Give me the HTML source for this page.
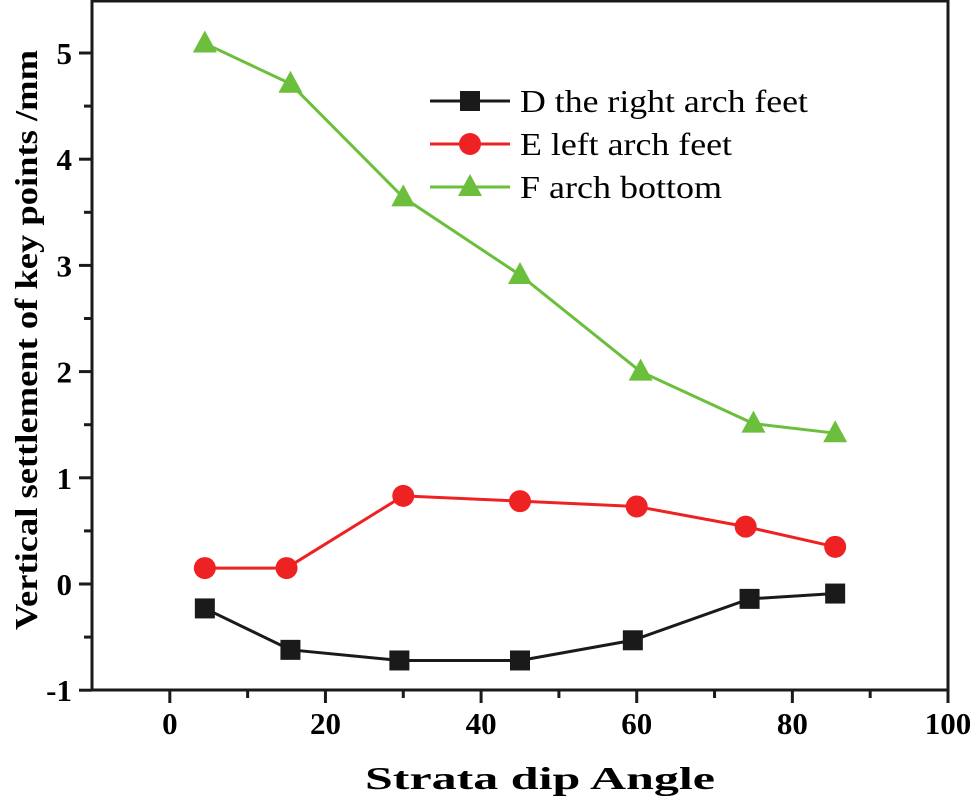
<!DOCTYPE html>
<html><head><meta charset="utf-8"><style>
body{margin:0;background:#fff}
text{font-family:"Liberation Serif","DejaVu Serif",serif}
</style></head><body>
<svg width="971" height="805" viewBox="0 0 971 805" font-family="Liberation Serif, DejaVu Serif, serif">
<g id="axes"></g>
<g id="series"></g>
<g id="legend"></g>
<text x="540" y="789" text-anchor="middle" font-size="32" font-weight="bold" font-family="Liberation Serif, serif" textLength="350" lengthAdjust="spacingAndGlyphs">Strata dip Angle</text>
<text transform="translate(37,340) rotate(-90)" text-anchor="middle" font-size="32" font-weight="bold" font-family="Liberation Serif, serif" textLength="580" lengthAdjust="spacingAndGlyphs">Vertical settlement of key points /mm</text>
</svg>
<script>
const xTicks=[0,20,40,60,80,100];
const yTicks=[-1,0,1,2,3,4,5];
const dX=[4.5,15.5,29.5,45,59.5,74.5,85.5];
const dY=[-0.23,-0.62,-0.72,-0.72,-0.53,-0.14,-0.09];
const eX=[4.5,15,30,45,60,74,85.5];
const eY=[0.15,0.15,0.83,0.78,0.73,0.54,0.35];
const fX=[4.5,15.5,30,45,60.5,75,85.5];
const fY=[5.09,4.71,3.64,2.91,2.0,1.51,1.42];
const names=["D the right arch feet","E left arch feet","F arch bottom"];
const NS="http://www.w3.org/2000/svg";
const L=92,R=948,T=1,B=690;
const sx=v=>L+(v+10)*(R-L)/110;
const sy=v=>584-v*106.2;
function mk(p,t,a){const e=document.createElementNS(NS,t);for(const k in a)e.setAttribute(k,a[k]);p.appendChild(e);return e;}
const FF="Liberation Serif, serif";
const ax=document.getElementById('axes');
const fr=mk(ax,'rect',{x:L,y:T,width:R-L,height:B-T,fill:'none',stroke:'#1a1a1a','stroke-width':3});


for(let v=0;v<=100;v+=10){const big=v%20===0;const t=mk(ax,'line',{x1:sx(v),x2:sx(v),y1:B,y2:B+(big?13:8),stroke:'#1a1a1a','stroke-width':3});

}
xTicks.forEach(v=>{const t=mk(ax,'text',{x:sx(v),y:B+44,'text-anchor':'middle','font-size':31,'font-weight':'bold','font-family':FF});t.textContent=v;

});
for(let v=-1;v<=5;v+=0.5){const big=Number.isInteger(v);const t=mk(ax,'line',{x1:L,x2:L-(big?13:8),y1:sy(v),y2:sy(v),stroke:'#1a1a1a','stroke-width':3});

}
yTicks.forEach(v=>{const t=mk(ax,'text',{x:L-20,y:sy(v)+11,'text-anchor':'end','font-size':31,'font-weight':'bold','font-family':FF});t.textContent=v;

});
const sg=document.getElementById('series');
function marker(g,shape,x,y,c){
 if(shape==='sq')return mk(g,'rect',{x:x-10,y:y-10,width:20,height:20,fill:c});
 if(shape==='ci')return mk(g,'circle',{cx:x,cy:y,r:11,fill:c});
 return mk(g,'polygon',{points:`${x},${y-13} ${x-12},${y+9} ${x+12},${y+9}`,fill:c});
}
const S=[[dX,dY,'#1a1a1a','sq','series-d'],[eX,eY,'#ee2222','ci','series-e'],[fX,fY,'#6cbf3c','tr','series-f']];
S.forEach(([xs,ys,c,sh,nm])=>{
 const g=mk(sg,'g',{});
 
 
 const pl=mk(g,'polyline',{points:xs.map((x,i)=>sx(x)+','+sy(ys[i])).join(' '),fill:'none',stroke:c,'stroke-width':3});
 
 
 xs.forEach((x,i)=>{const m=marker(g,sh,sx(x),sy(ys[i]),c);
 
 });
});
const lg=document.getElementById('legend');
S.forEach(([xs,ys,c,sh,nm],i)=>{
 const y=101+i*43;
 const g=mk(lg,'g',{});
 
 
 mk(g,'line',{x1:430,x2:510,y1:y,y2:y,stroke:c,'stroke-width':3});
 marker(g,sh,470,y,c);
 const t=mk(g,'text',{x:520,y:y+11,'font-size':32,'font-family':FF,textLength:[288,212,202][i],lengthAdjust:'spacingAndGlyphs'});t.textContent=names[i];
});
</script>
</body></html>
